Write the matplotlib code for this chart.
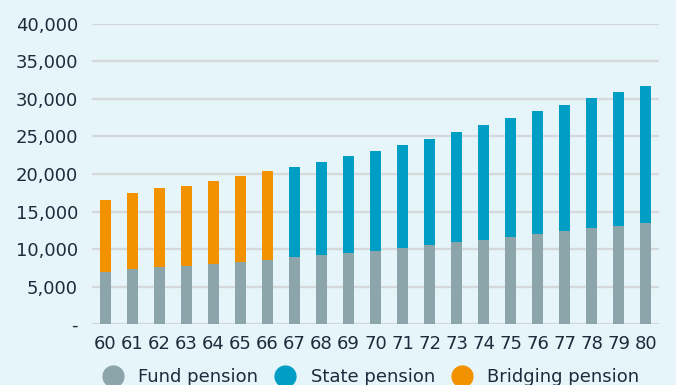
import matplotlib
matplotlib.use('Agg')
import matplotlib.pyplot as plt
import numpy as np
from matplotlib.ticker import FuncFormatter

ages = [str(a) for a in range(60, 81)]
fund = [6970, 7290, 7600, 7730, 7960, 8310, 8580, 8890, 9200, 9470, 9780,
        10130, 10530, 10890, 11240, 11600, 12040, 12400, 12760, 13110, 13470]
totals = [16570, 17420, 18130, 18440, 19070, 19780, 20440, 20930, 21600, 22360, 23070,
          23870, 24710, 25600, 26530, 27470, 28360, 29200, 30090, 30930, 31770]
bridging_until = 66  # bridging pension paid up to this age, state pension afterwards

top = np.array(totals) - np.array(fund)
is_bridging = np.array([int(a) <= bridging_until for a in ages])
state = np.where(is_bridging, 0, top)
bridging = np.where(is_bridging, top, 0)

bg = '#e6f5f9'
c_fund = '#8ca5aa'
c_state = '#009ec4'
c_bridge = '#f39200'
txt = '#1f2a3c'

fig = plt.figure(figsize=(6.76, 3.85), dpi=100)
fig.patch.set_facecolor(bg)
ax = fig.add_axes([0.136, 0.158, 0.839, 0.78])
ax.set_facecolor(bg)

x = np.arange(len(ages))
w = 0.41
ax.bar(x, fund, w, color=c_fund, label='Fund pension', zorder=3)
ax.bar(x, state, w, bottom=fund, color=c_state, label='State pension', zorder=3)
ax.bar(x, bridging, w, bottom=fund, color=c_bridge, label='Bridging pension', zorder=3)

ax.set_xlim(-0.5, len(ages) - 0.5)
ax.set_ylim(0, 40000)
ax.set_yticks(range(0, 40001, 5000))
ax.yaxis.set_major_formatter(FuncFormatter(lambda v, p: '-' if v == 0 else f'{v:,.0f}'))
ax.set_xticks(x)
ax.set_xticklabels(ages)
ax.grid(axis='y', color='#d6d9dc', linewidth=1.7, zorder=0)
for s in ax.spines.values():
    s.set_visible(False)
ax.tick_params(length=0, labelsize=13, colors=txt)
ax.tick_params(axis='y', pad=10)
ax.tick_params(axis='x', pad=8)
for lab in ax.get_xticklabels() + ax.get_yticklabels():
    lab.set_color(txt)

handles = [plt.Line2D([], [], marker='o', linestyle='', markersize=15, color=c)
           for c in (c_fund, c_state, c_bridge)]
fig.legend(handles, ['Fund pension', 'State pension', 'Bridging pension'],
           loc='center', bbox_to_anchor=(0.543, 0.02), ncol=3, frameon=False,
           fontsize=13, labelcolor=txt, handletextpad=0.4, columnspacing=0.5)

plt.savefig('out.png', facecolor=bg)
